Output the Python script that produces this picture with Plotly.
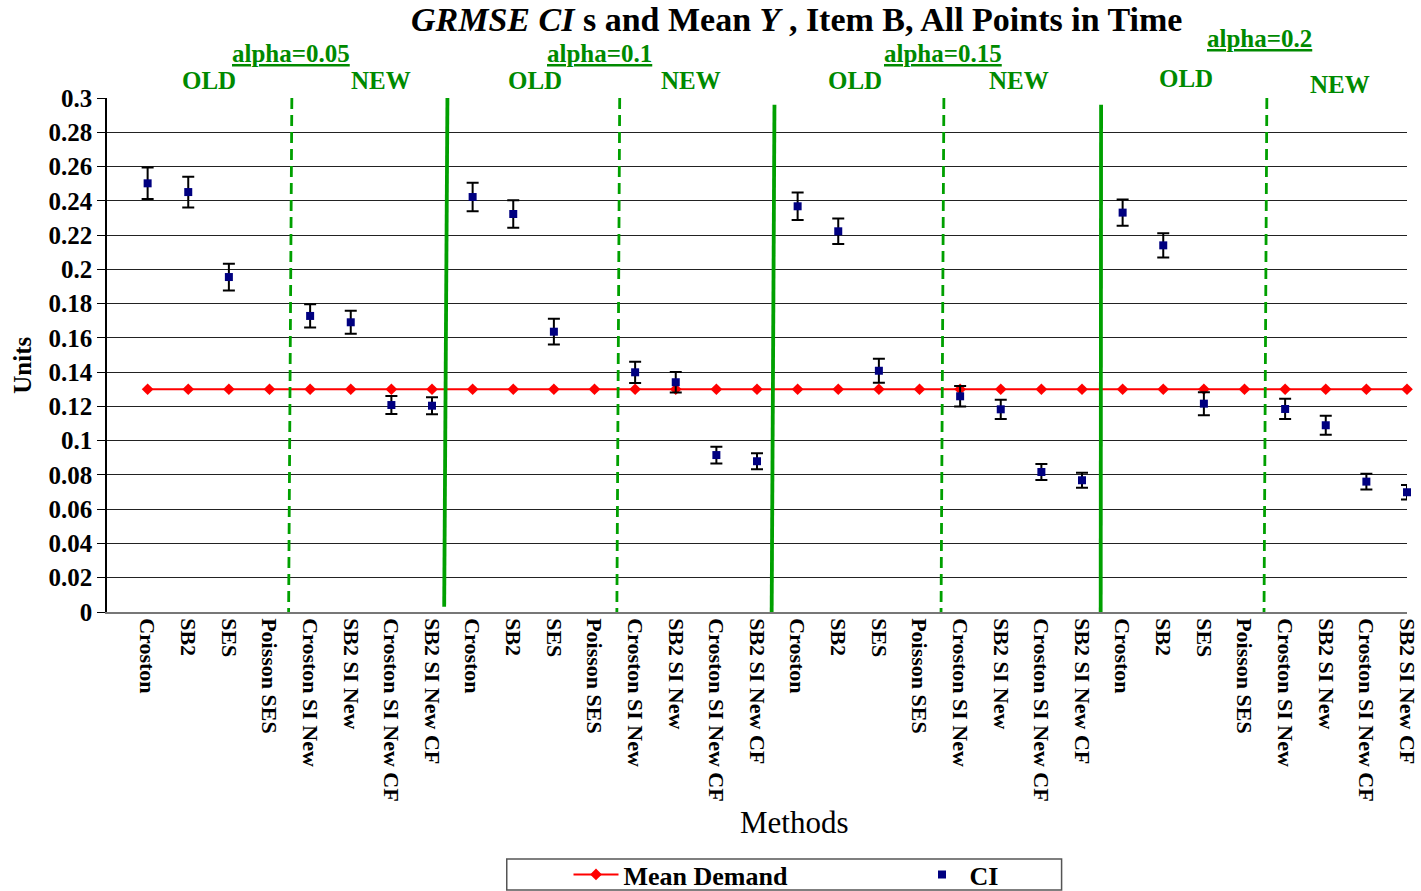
import plotly.graph_objects as go

methods = ["Croston", "SB2", "SES", "Poisson SES", "Croston SI New",
           "SB2 SI New", "Croston SI New CF", "SB2 SI New CF"]
alphas = ["alpha=0.05", "alpha=0.1", "alpha=0.15", "alpha=0.2"]
categories = methods * 4

mean_demand = [0.13] * 32

ci_a005 = [0.2502, 0.2451, 0.1955, None, 0.1728, 0.1691, 0.1208, 0.1204]
ci_a010 = [0.2422, 0.2323, 0.1636, None, 0.1399, 0.1341, 0.0916, 0.0880]
ci_a015 = [0.2368, 0.2222, 0.1408, None, 0.1259, 0.1183, 0.0817, 0.0769]
ci_a020 = [0.2331, 0.2140, 0.1216, None, 0.1185, 0.1090, 0.0761, 0.0699]

err_a005 = [0.0092, 0.0090, 0.0078, None, 0.0068, 0.0067, 0.0052, 0.0050]
err_a010 = [0.0083, 0.0080, 0.0075, None, 0.0062, 0.0060, 0.0049, 0.0047]
err_a015 = [0.0080, 0.0074, 0.0070, None, 0.0060, 0.0056, 0.0047, 0.0044]
err_a020 = [0.0076, 0.0071, 0.0067, None, 0.0059, 0.0055, 0.0046, 0.0042]

ci = ci_a005 + ci_a010 + ci_a015 + ci_a020
err = err_a005 + err_a010 + err_a015 + err_a020

y_ticks = [round(0.02 * i, 2) for i in range(16)]
y_ticktext = ["0" if v == 0 else ("%g" % v) for v in y_ticks]

x = list(range(len(categories)))

SERIF = "Liberation Serif, Times New Roman, serif"
GREEN_TXT = "#008a00"
GREEN_LN = "#00a000"

fig = go.Figure()
fig.add_trace(go.Scatter(
    x=x, y=mean_demand, name="Mean Demand", mode="lines+markers",
    line=dict(color="#ff0000", width=2),
    marker=dict(symbol="diamond", size=9, color="#ff0000"),
    cliponaxis=False,
))
fig.add_trace(go.Scatter(
    x=x, y=ci, name="CI", mode="markers",
    marker=dict(symbol="square", size=8, color="#000080"),
    error_y=dict(type="data", array=[e if e is not None else 0 for e in err],
                 visible=True, color="black", thickness=2, width=6),
    cliponaxis=False,
))

# separators (data x positions between groups), slightly slanted like the original
dashed_sep = [(3.55, 3.47), (11.62, 11.55), (19.60, 19.53), (27.55, 27.48)]
solid_sep = [(7.38, 7.30, 0.301, 0.003), (15.43, 15.36, 0.296, -0.003),
             (23.47, 23.46, 0.296, -0.002)]
for xt, xb in dashed_sep:
    fig.add_shape(type="line", xref="x", yref="y", x0=xt, y0=0.3, x1=xb, y1=-0.002,
                  line=dict(color=GREEN_LN, width=2.8, dash="11px,6px"))
for xt, xb, yt, yb in solid_sep:
    fig.add_shape(type="line", xref="x", yref="y", x0=xt, y0=yt, x1=xb, y1=yb,
                  line=dict(color=GREEN_LN, width=3.8))

# header labels
alpha_x = [3.52, 11.13, 19.57, 27.37]
alpha_y = [1.0875, 1.0875, 1.0875, 1.1148]
for t, ax_, ay_ in zip(alphas, alpha_x, alpha_y):
    fig.add_annotation(x=ax_, y=ay_, xref="x", yref="paper", showarrow=False,
                       text="<b><u>%s</u></b>" % t,
                       font=dict(family=SERIF, size=25, color=GREEN_TXT),
                       xanchor="center", yanchor="middle")
on_labels = ["OLD", "NEW"] * 4
on_x = [1.5, 5.74, 9.53, 13.37, 17.4, 21.44, 25.55, 29.34]
on_y = [1.035, 1.035, 1.035, 1.035, 1.035, 1.035, 1.037, 1.0253]
for t, ox, oy in zip(on_labels, on_x, on_y):
    fig.add_annotation(x=ox, y=oy, xref="x", yref="paper", showarrow=False,
                       text="<b>%s</b>" % t,
                       font=dict(family=SERIF, size=25, color=GREEN_TXT),
                       xanchor="center", yanchor="middle")

# title
fig.add_annotation(x=0.5305, y=1.1518, xref="paper", yref="paper", showarrow=False,
                   text="<b><i>GRMSE CI</i> s and Mean <i>Y</i> , Item B, All Points in Time</b>",
                   font=dict(family=SERIF, size=34, color="black"),
                   xanchor="center", yanchor="middle")
# axis titles
fig.add_annotation(x=0.529, y=-0.4105, xref="paper", yref="paper", showarrow=False,
                   text="Methods", font=dict(family=SERIF, size=31, color="black"),
                   xanchor="center", yanchor="middle")
fig.add_annotation(x=-0.0656, y=0.4805, xref="paper", yref="paper", showarrow=False,
                   text="<b>Units</b>", textangle=-90,
                   font=dict(family=SERIF, size=25, color="black"),
                   xanchor="center", yanchor="middle")

# legend frame
fig.add_shape(type="rect", xref="paper", yref="paper", x0=0.3075, x1=0.7343,
              y0=-0.5409, y1=-0.4805, line=dict(color="#555555", width=1.5),
              fillcolor="rgba(0,0,0,0)")

fig.update_layout(
    width=1421, height=891,
    margin=dict(l=107, r=14, t=98, b=279, autoexpand=False),
    plot_bgcolor="white", paper_bgcolor="white",
    showlegend=True,
    legend=dict(orientation="h", x=0.355, y=-0.5107, xanchor="left", yanchor="middle",
                font=dict(family=SERIF, size=26, color="black", weight="bold"),
                bgcolor="rgba(0,0,0,0)", borderwidth=0, entrywidth=286,
                entrywidthmode="pixels", itemwidth=45),
    xaxis=dict(range=[-1, 31], tickmode="array", tickvals=x, ticktext=categories,
               tickangle=90, showgrid=False, zeroline=False, showline=True,
               linecolor="#777777", linewidth=1.5, ticks="", automargin=False,
               tickfont=dict(family=SERIF, size=22, color="black", weight="bold")),
    yaxis=dict(range=[0, 0.3], tickmode="array", tickvals=y_ticks, ticktext=y_ticktext,
               showgrid=True, gridcolor="#222222", gridwidth=1, zeroline=False,
               showline=True, linecolor="black", linewidth=1.5, automargin=False,
               ticks="outside", ticklen=8, tickcolor="black",
               tickfont=dict(family=SERIF, size=25, color="black", weight="bold")),
)

fig.write_html("out.html")
